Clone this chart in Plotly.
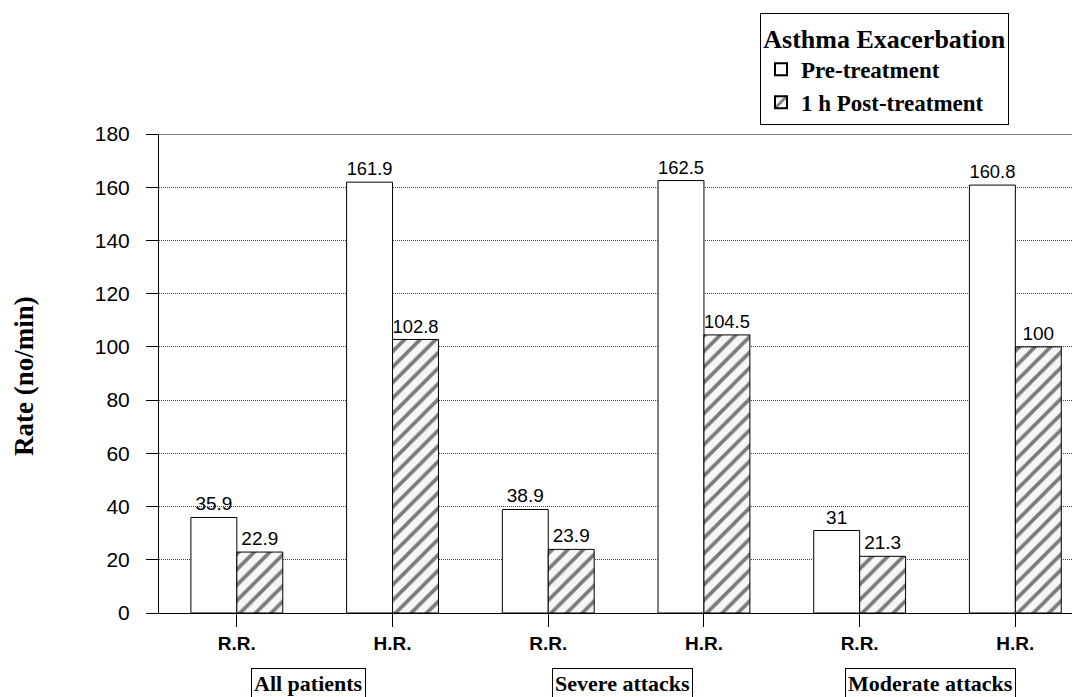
import plotly.graph_objects as go

categories = ["R.R. (All)", "H.R. (All)", "R.R. (Severe)", "H.R. (Severe)", "R.R. (Moderate)", "H.R. (Moderate)"]
tick_labels = ["R.R.", "H.R.", "R.R.", "H.R.", "R.R.", "H.R."]
pre_treatment = [35.9, 161.9, 38.9, 162.5, 31, 160.8]
post_treatment = [22.9, 102.8, 23.9, 104.5, 21.3, 100]
group_labels = ["All patients", "Severe attacks", "Moderate attacks"]
group_centers_px = [308, 622, 930]

OFF = 8  # default body margin of the page
W, H = 1080 - OFF, 697 - OFF
L, T = 159 - OFF, 134 - OFF
plot_bottom = 613 - OFF
R = 0
B = H - plot_bottom
pw, ph = W - L - R, H - T - B


def px_x(page_x):
    return (page_x - OFF - L) / pw


def px_y(page_y):
    return (plot_bottom - (page_y - OFF)) / ph


fig = go.Figure()
fig.add_trace(go.Bar(
    x=list(range(len(categories))), y=pre_treatment, name="<b>Pre-treatment</b>",
    marker=dict(color="white", line=dict(color="black", width=1)),
    text=[f"{v:g}" for v in pre_treatment], textposition="outside",
    textfont=dict(family="Arial", size=19, color="black"), cliponaxis=False,
))
fig.add_trace(go.Bar(
    x=list(range(len(categories))), y=post_treatment, name="<b>1 h Post-treatment</b>",
    marker=dict(color="white", line=dict(color="black", width=1),
                pattern=dict(shape="/", fgcolor="black", bgcolor="#f6f6f6", size=11, solidity=0.33)),
    text=[f"{v:g}" for v in post_treatment], textposition="outside",
    textfont=dict(family="Arial", size=19, color="black"), cliponaxis=False,
))

for lab, cx in zip(group_labels, group_centers_px):
    fig.add_annotation(
        text=f"<b>{lab}</b>", xref="paper", yref="paper", x=px_x(cx), y=px_y(668),
        xanchor="center", yanchor="top", showarrow=False,
        font=dict(family="Liberation Serif", size=22, color="black"),
        bordercolor="black", borderwidth=1, borderpad=2, bgcolor="white",
    )

fig.add_annotation(
    text="<b>Rate (no/min)</b>", xref="paper", yref="paper",
    x=px_x(24), y=px_y(376), textangle=-90,
    xanchor="center", yanchor="middle", showarrow=False,
    font=dict(family="Liberation Serif", size=27, color="black"),
)

# solid top frame line at 180
fig.add_shape(type="line", xref="paper", yref="y", x0=0, x1=1, y0=180, y1=180,
              line=dict(color="black", width=1))

fig.update_layout(
    width=W, height=H,
    margin=dict(l=L, r=R, t=T, b=B, pad=0),
    paper_bgcolor="white", plot_bgcolor="white",
    barmode="group", bargap=0.41, bargroupgap=0,
    showlegend=True,
    legend=dict(
        title=dict(text="<b>Asthma Exacerbation</b>", side="top center",
                   font=dict(family="Liberation Serif", size=26, color="black")),
        font=dict(family="Liberation Serif", size=23, color="black"),
        x=px_x(760), y=px_y(13), xanchor="left", yanchor="top",
        bordercolor="black", borderwidth=1, bgcolor="white",
        itemsizing="constant", tracegroupgap=0, itemwidth=30,
    ),
    xaxis=dict(
        range=[-0.5, -0.5 + pw / 155.7],
        tickmode="array", tickvals=list(range(len(categories))),
        ticktext=[f"<b>{t}</b>" for t in tick_labels],
        tickfont=dict(family="Arial", size=19, color="black"),
        ticks="outside", ticklen=13, tickcolor="black", tickwidth=1,
        showline=True, linecolor="black", linewidth=1,
        showgrid=False, zeroline=False,
    ),
    yaxis=dict(
        range=[0, 180], tickmode="linear", tick0=0, dtick=20,
        tickfont=dict(family="Arial", size=21, color="black"),
        ticks="outside", ticklen=12, tickcolor="black", tickwidth=1,
        ticklabelstandoff=12,
        showline=True, linecolor="black", linewidth=1,
        showgrid=True, gridcolor="#444444", gridwidth=1, griddash="1px,1px",
        zeroline=False,
    ),
)

fig.write_html("out.html")
